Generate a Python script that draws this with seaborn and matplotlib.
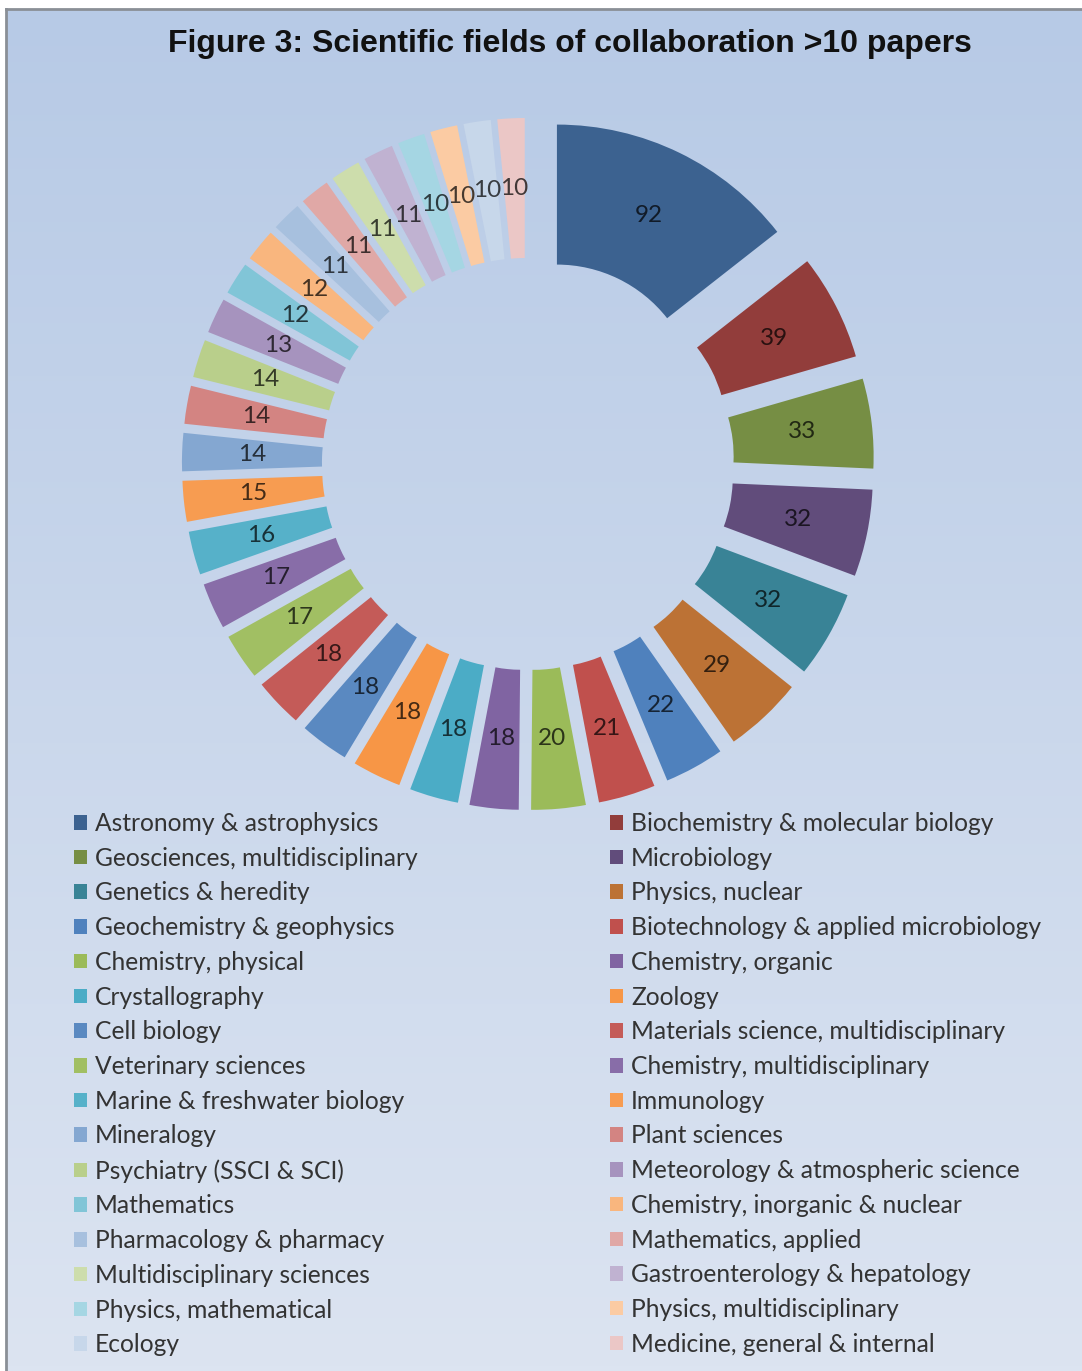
import numpy as np
import matplotlib
matplotlib.use("Agg")
import matplotlib.pyplot as plt
import matplotlib.colors as mcolors
import seaborn as sns

# Fields with more than 10 collaborative papers (clockwise from 12 o'clock)
fields = [
    "Astronomy & astrophysics", "Biochemistry & molecular biology",
    "Geosciences, multidisciplinary", "Microbiology",
    "Genetics & heredity", "Physics, nuclear",
    "Geochemistry & geophysics", "Biotechnology & applied microbiology",
    "Chemistry, physical", "Chemistry, organic",
    "Crystallography", "Zoology",
    "Cell biology", "Materials science, multidisciplinary",
    "Veterinary sciences", "Chemistry, multidisciplinary",
    "Marine & freshwater biology", "Immunology",
    "Mineralogy", "Plant sciences",
    "Psychiatry (SSCI & SCI)", "Meteorology & atmospheric science",
    "Mathematics", "Chemistry, inorganic & nuclear",
    "Pharmacology & pharmacy", "Mathematics, applied",
    "Multidisciplinary sciences", "Gastroenterology & hepatology",
    "Physics, mathematical", "Physics, multidisciplinary",
    "Ecology", "Medicine, general & internal",
]
papers = [92, 39, 33, 32, 32, 29, 22, 21, 20, 18, 18, 18, 18, 18, 17, 17,
          16, 15, 14, 14, 14, 13, 12, 12, 11, 11, 11, 11, 10, 10, 10, 10]

# Office-style accent colours, cycled with darker / lighter variants
accents = ["#4F81BD", "#C0504D", "#9BBB59", "#8064A2", "#4BACC6", "#F79646"]
variants = [("shade", 0.76), ("tint", 0.0), ("tint", 0.06),
            ("tint", 0.30), ("tint", 0.50), ("tint", 0.68)]

def vary(hexcol, kind, amt):
    c = np.array(mcolors.to_rgb(hexcol))
    if kind == "shade":
        return tuple(c * amt)
    return tuple(c + (1 - c) * amt)

colors = []
for i in range(len(papers)):
    kind, amt = variants[(i // len(accents)) % len(variants)]
    colors.append(vary(accents[i % len(accents)], kind, amt))
label_colors = [tuple(np.array(c) * 0.28) for c in colors]

sns.set_theme(style="white")
plt.rcParams["font.family"] = ["Lato", "DejaVu Sans"]

W, H = 1082, 1371
fig = plt.figure(figsize=(W / 100, H / 100), dpi=100)
fig.patch.set_facecolor("white")

# Gradient backdrop with a thin grey frame on the left and top
bg = fig.add_axes([6 / W, 0, 1 - 6 / W, (H - 9) / H], zorder=-5)
grad = np.linspace(0, 1, 256).reshape(-1, 1)
cmap_bg = mcolors.LinearSegmentedColormap.from_list("bg", ["#B7CAE6", "#DCE4F1"])
bg.imshow(grad, aspect="auto", cmap=cmap_bg, extent=[0, 1, 0, 1], origin="upper")
bg.set_xlim(0, 1)
bg.set_ylim(0, 1)
bg.set_xticks([])
bg.set_yticks([])
for side, sp in bg.spines.items():
    sp.set_visible(side in ("left", "top"))
    sp.set_color("#8A8F96")
    sp.set_linewidth(2)

# Donut axes: 1 data unit = 280 px, centred at (528, 464)
cx, cy, R = 528, 464, 280
L = 1.3
S = 2 * L * R
ax = fig.add_axes([(cx - S / 2) / W, (H - cy - S / 2) / H, S / W, S / H])
ax.set_facecolor("none")

wedges, texts, autotexts = ax.pie(
    papers,
    colors=colors,
    startangle=90,
    counterclock=False,
    explode=[0.236] * len(papers),
    wedgeprops=dict(width=0.5, edgecolor="none"),
    autopct="%1.0f",
    pctdistance=0.75,
    textprops=dict(fontsize=17.5),
)
for t, v, lc in zip(autotexts, papers, label_colors):
    t.set_text(str(v))
    t.set_color(lc)
ax.set_xlim(-L, L)
ax.set_ylim(-L, L)
ax.set_aspect("equal")
ax.axis("off")

fig.text(570 / W, 1 - 44 / H, "Figure 3: Scientific fields of collaboration >10 papers",
         ha="center", va="center", fontsize=23, fontweight="bold",
         family=["Liberation Sans", "DejaVu Sans"], color="#111111")

# Two legend columns, read row by row
leg_kw = dict(loc="upper left", frameon=False, fontsize=17.75, handlelength=0.53,
              handleheight=0.53, handletextpad=0.32, labelspacing=0.475,
              borderpad=0, borderaxespad=0, labelcolor="#333333")
leg1 = fig.legend(wedges[0::2], fields[0::2],
                  bbox_to_anchor=(74 / W, 1 - 812 / H), **leg_kw)
leg2 = fig.legend(wedges[1::2], fields[1::2],
                  bbox_to_anchor=(610 / W, 1 - 812 / H), **leg_kw)

fig.savefig("out.png", dpi=100)
